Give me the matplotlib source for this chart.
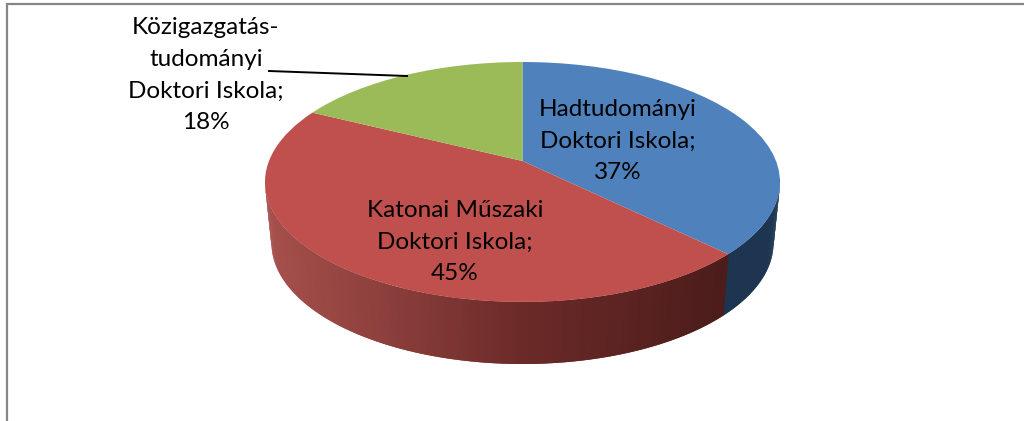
import numpy as np
import matplotlib
matplotlib.use('Agg')
import matplotlib.pyplot as plt
from matplotlib.transforms import Transform

names = ['Hadtudományi\nDoktori Iskola', 'Katonai Műszaki\nDoktori Iskola', 'Közigazgatás-\ntudományi\nDoktori Iskola']
shares = [37.4, 45.0, 17.6]
colors = ['#4F81BD', '#C0504D', '#9BBB59']
side_blue = '#1D3550'
labels = [f'{n};\n{v:.0f}%' for n, v in zip(names, shares)]

plt.rcParams['font.family'] = ['Lato', 'DejaVu Sans']

W, H = 1024, 421
cx, cy, rx, ry = 522.5, 182, 257.5, 120
apex = (cy - 161) / ry  # pie centre sits above the ellipse centre (perspective)
# bottom rim of the disc, in units of the top ellipse
bx, by, bdy = 251 / rx, 121 / ry, -61 / ry


def tilt(x, y):
    d = 1 + apex * y
    return x * np.sqrt(1 - apex ** 2) / d, (y + apex) / d


class Tilt(Transform):
    input_dims = output_dims = 2
    has_inverse = False

    def transform_non_affine(self, values):
        x, y = tilt(values[:, 0], values[:, 1])
        return np.column_stack([x, y])


fig = plt.figure(figsize=(W / 100, H / 100), dpi=100)
ax = fig.add_axes([0, 0, 1, 1])
wedges, _ = ax.pie(shares, colors=colors, startangle=90, counterclock=False, radius=1,
                   wedgeprops={'linewidth': 0, 'zorder': 3})
for w in wedges:
    w.set_transform(Tilt() + ax.transData)
ax.set_aspect('auto')
ax.set_xlim(-cx / rx, (W - cx) / rx)
ax.set_ylim((cy - H) / ry, cy / ry)

# side wall, strips overlap each other so no seams show
a_edge = np.radians(90 - 360 * shares[0] / sum(shares))
ex, ey = tilt(np.cos(a_edge), np.sin(a_edge))
edge = np.degrees(np.arctan2(ey, ex)) + 360
red_x = [-1.0, -0.5, 0.0, 0.78]
red_c = np.array([[0xA6, 0x50, 0x4C], [0x8A, 0x3E, 0x3B], [0x6B, 0x2A, 0x28], [0x4C, 0x1D, 0x1B]]) / 255
angles = np.radians(np.linspace(180, 360, 241))
for a0, a1 in zip(angles[:-2], angles[2:]):
    mid = a0 + (a1 - a0) / 4
    arc = np.linspace(a0, a1, 3)
    xs = np.r_[np.cos(arc), bx * np.cos(arc[::-1])]
    ys = np.r_[np.sin(arc), by * np.sin(arc[::-1]) + bdy]
    if np.degrees(mid) > edge:
        c = side_blue
    else:
        c = [np.interp(np.cos(mid), red_x, red_c[:, i]) for i in range(3)]
    ax.fill(xs, ys, color=c, linewidth=0, zorder=2)

# overlay in pixel coordinates: frame, leader line and labels
px = fig.add_axes([0, 0, 1, 1], facecolor='none')
px.set_xlim(0, W)
px.set_ylim(H, 0)
px.axis('off')
px.plot([7, 7, W], [H, 4, 4], color='#868686', linewidth=1.6, solid_joinstyle='miter')
px.plot([269, 407], [71, 76], color='black', linewidth=1.4)

px.text(618, 141, labels[0], ha='center', va='center', fontsize=17.5, linespacing=1.63, color='black')
px.text(455, 242, labels[1], ha='center', va='center', fontsize=17.5, linespacing=1.63, color='black')
px.text(206, 75, labels[2], ha='center', va='center', fontsize=17.5, linespacing=1.63, color='black')

fig.savefig('out.png', dpi=100)
